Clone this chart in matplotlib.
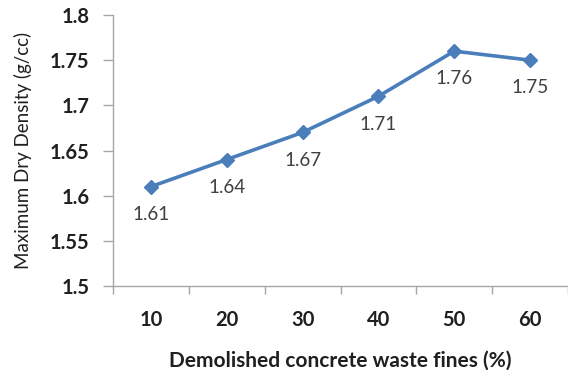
import matplotlib
matplotlib.use("Agg")
import matplotlib.pyplot as plt
import numpy as np

# Maximum dry density vs. percentage of demolished concrete waste fines
fines_pct = ["10", "20", "30", "40", "50", "60"]
mdd = [1.61, 1.64, 1.67, 1.71, 1.76, 1.75]
y_ticks = [1.5, 1.55, 1.6, 1.65, 1.7, 1.75, 1.8]
y_tick_labels = ["1.5", "1.55", "1.6", "1.65", "1.7", "1.75", "1.8"]

plt.rcParams["font.family"] = ["Lato", "DejaVu Sans"]

fig = plt.figure(figsize=(5.68, 3.70), dpi=100)
ax = fig.add_axes([113 / 568, 84 / 370, 455 / 568, 271 / 370])

x = np.arange(len(fines_pct))
line_color = "#4a7ebb"
ax.plot(x, mdd, color=line_color, linewidth=2.6, marker="D", markersize=7.5,
        markerfacecolor=line_color, markeredgecolor=line_color, zorder=3)

for xi, v in zip(x, mdd):
    ax.annotate(f"{v:.2f}", (xi, v), xytext=(0, -20), textcoords="offset points",
                ha="center", va="center", fontsize=13.5, color="#404040")

ax.set_xlim(-0.5, len(fines_pct) - 0.5)
ax.set_ylim(1.5, 1.8)

ax.set_yticks(y_ticks)
ax.set_yticklabels(y_tick_labels, fontsize=14.5, fontweight="bold", color="#1f1f1f")

# category labels centered, tick marks between categories
ax.set_xticks(x)
ax.set_xticklabels(fines_pct, fontsize=14.5, fontweight="bold", color="#1f1f1f")
ax.tick_params(axis="x", which="major", length=0, pad=17)
ax.set_xticks(np.arange(-0.5, len(fines_pct), 1.0), minor=True)
ax.tick_params(axis="x", which="minor", length=6, width=1, color="#a6a6a6", direction="out")
ax.tick_params(axis="y", length=7, width=1, color="#a6a6a6", direction="out", pad=10)

for side in ("top", "right"):
    ax.spines[side].set_visible(False)
for side in ("left", "bottom"):
    ax.spines[side].set_color("#a6a6a6")
    ax.spines[side].set_linewidth(1)

ax.set_xlabel("Demolished concrete waste fines (%)", fontsize=15, fontweight="bold",
              color="#1f1f1f", labelpad=15)
ax.set_ylabel("Maximum Dry Density (g/cc)", fontsize=13.5, color="#1f1f1f", labelpad=13)

fig.savefig("out.png", dpi=100, facecolor="white")
